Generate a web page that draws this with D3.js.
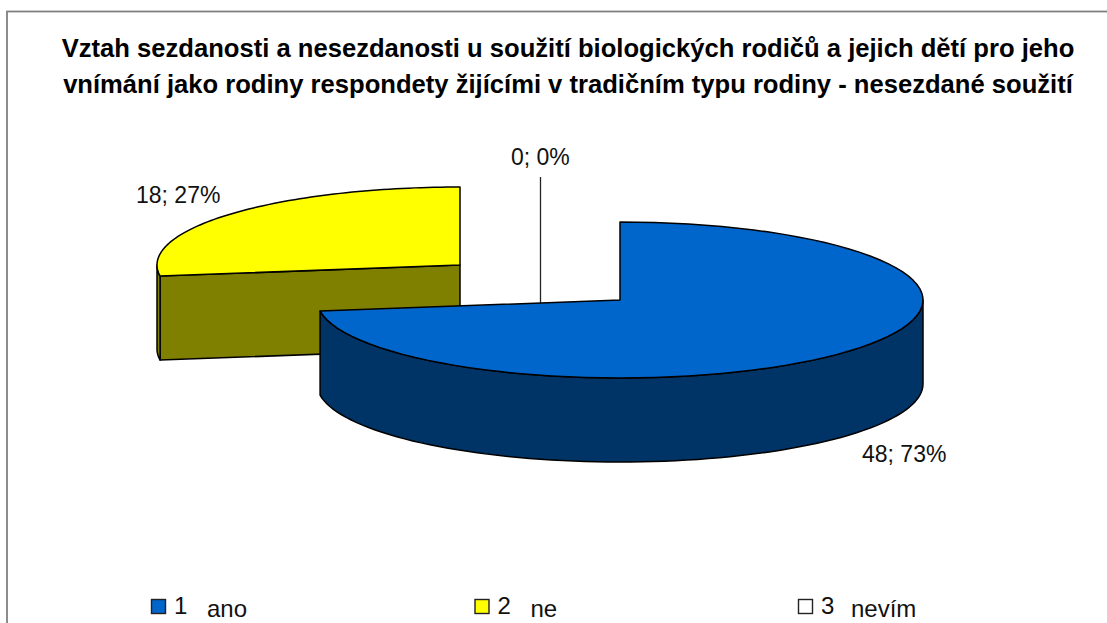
<!DOCTYPE html>
<meta charset="utf-8">
<style>
    body { margin: 0; background: #fff; }
    svg { display: block; font-family: "Liberation Sans", Arial, sans-serif; }
    .title { font-size: 25.6px; font-weight: bold; fill: #000; text-anchor: middle; }
    .label { font-size: 23px; fill: #111; }
    .legend { font-size: 24px; fill: #111; }
    .edge { stroke: #000; stroke-width: 1.5px; stroke-linejoin: round; }
</style>
<svg width="1107" height="623"></svg>
<script src="https://d3js.org/d3.v7.min.js"></script>
<script>
    const codes = ["1", "2", "3"]
    const categories = ["ano", "ne", "nevím"]
    const values = [48, 18, 0]
    const percents = [73, 27, 0]
    const colors = ["#0066cc", "#ffff00", "#ffffff"]
    const sideColors = ["#003366", "#808000", "#808080"]
    const titleLines = [
        "Vztah sezdanosti a nesezdanosti u soužití biologických rodičů a jejich dětí pro jeho",
        "vnímání jako rodiny respondety žijícími v tradičním typu rodiny - nesezdané soužití"
    ]

    const svg = d3.select("svg")

    const rx = 303, ry = 78, depth = 84
    // slice centres, the yellow one is pulled out to the left
    const centers = [[620, 300], [460, 265]]

    svg.append("rect")
        .attr("x", 7).attr("y", 11.5)
        .attr("width", 1120).attr("height", 640)
        .attr("fill", "#fff").attr("stroke", "#808080").attr("stroke-width", 1.8)

    svg.selectAll(".title").data(titleLines).enter().append("text")
        .attr("class", "title")
        .attr("x", 568)
        .attr("y", (d, i) => 57 + i * 36)
        .text(d => d)

    const slices = d3.pie().sort(null)(values)

    function rim(c, a) {
        return [c[0] + rx * Math.sin(a), c[1] - ry * Math.cos(a)]
    }
    function arcPoints(c, a0, a1, dy = 0) {
        return d3.range(0, 81).map(i => {
            const p = rim(c, a0 + (a1 - a0) * i / 80)
            return [p[0], p[1] + dy]
        })
    }
    const line = d3.line()

    function drawSlice(i) {
        const c = centers[i], s = slices[i]
        const down = ([x, y]) => [x, y + depth]
        const g = svg.append("g").attr("class", "edge")

        // cut faces that can be seen from the front
        if (i === 1) {
            const p = rim(c, s.startAngle)
            g.append("path")
                .attr("d", line([c, p, down(p), down(c)]) + "Z")
                .attr("fill", sideColors[i])
        }
        // outer wall, only the part facing the viewer
        const from = Math.max(s.startAngle, Math.PI / 2)
        const to = Math.min(s.endAngle, 3 * Math.PI / 2)
        if (to > from) {
            const top = arcPoints(c, from, to)
            const bottom = arcPoints(c, to, from, depth)
            g.append("path")
                .attr("d", line(top.concat(bottom)) + "Z")
                .attr("fill", sideColors[i])
        }
        g.append("path")
            .attr("d", line([c].concat(arcPoints(c, s.startAngle, s.endAngle))) + "Z")
            .attr("fill", colors[i])
    }

    // yellow sits behind, then the leader of the empty slice, then blue
    drawSlice(1)
    svg.append("line")
        .attr("x1", 540.5).attr("x2", 540.5)
        .attr("y1", 177).attr("y2", 304)
        .attr("stroke", "#222").attr("stroke-width", 1.3)
    drawSlice(0)

    const labelPos = [[862, 462], [136, 203], [511, 165]]
    svg.selectAll(".label").data(values).enter().append("text")
        .attr("class", "label")
        .attr("x", (d, i) => labelPos[i][0])
        .attr("y", (d, i) => labelPos[i][1])
        .text((d, i) => d + "; " + percents[i] + "%")

    const legendX = d3.scalePoint().domain(codes).range([151, 798])
    const legend = svg.selectAll(".legend-item").data(codes).enter().append("g")
        .attr("class", "legend-item")
        .attr("transform", d => "translate(" + legendX(d) + ",599)")
    legend.append("rect")
        .attr("x", 0.5).attr("y", 0.5)
        .attr("width", 14).attr("height", 14)
        .attr("fill", (d, i) => colors[i])
        .attr("stroke", "#222").attr("stroke-width", 1.4)
    legend.append("text")
        .attr("class", "legend")
        .attr("x", 23).attr("y", 15)
        .text(d => d)
    legend.append("text")
        .attr("class", "legend")
        .attr("x", (d, i) => i === 2 ? 53 : 56).attr("y", 18)
        .text((d, i) => categories[i])
</script>
